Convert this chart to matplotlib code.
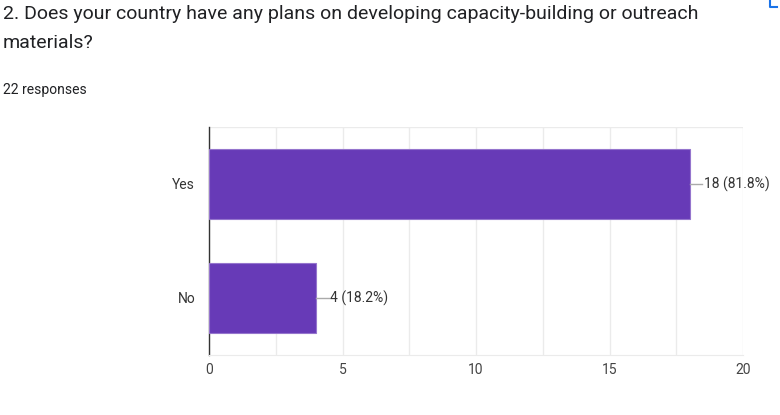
import numpy as np
import matplotlib.pyplot as plt
from matplotlib.lines import Line2D

plt.rcParams['font.family'] = ['Roboto', 'DejaVu Sans']

categories = ['Yes', 'No']
counts = [18, 4]
total = 22
labels = ['18 (81.8%)', '4 (18.2%)']
xticks = [0, 5, 10, 15, 20]

bar_color = '#673ab7'
text_color = '#444444'

fig = plt.figure(figsize=(7.8, 4.15), dpi=100)
ax = fig.add_axes([0.268, 0.1446, 0.6846, 0.5494])

y = np.arange(len(categories))
ax.barh(y, counts, height=0.61, color=bar_color, edgecolor='#9575cd', linewidth=0.8, zorder=3)

# leader lines and value labels
for yi, c, lab in zip(y, counts, labels):
    ax.plot([c, c + 0.48], [yi, yi], color='#aaaaaa', lw=1, zorder=3, clip_on=False)
    ax.text(c + 0.52, yi, lab, va='center', ha='left', fontsize=10, color='#333333')

ax.set_xlim(0, 20)
ax.set_ylim(1.5, -0.5)
ax.set_yticks(y)
ax.set_yticklabels(categories, fontsize=10, color='#333333')
ax.set_xticks(xticks)
ax.set_xticklabels([str(t) for t in xticks], fontsize=10, color=text_color)
ax.set_xticks(np.arange(0, 20.1, 2.5), minor=True)
ax.grid(axis='x', which='both', color='#ebebeb', lw=1, zorder=0)
ax.tick_params(axis='both', which='both', length=0, pad=6)
ax.tick_params(axis='y', pad=10)

for s in ['top', 'right']:
    ax.spines[s].set_visible(False)
ax.spines['bottom'].set_color('#ebebeb')
ax.spines['left'].set_color('#333333')
ax.spines['left'].set_linewidth(1)
ax.axhline(-0.5, color='#ebebeb', lw=1, zorder=0)

fig.text(0.004, 0.988, '2. Does your country have any plans on developing capacity-building or outreach\nmaterials?',
         fontsize=14, color='#202124', va='top', ha='left', linespacing=1.8)
fig.text(0.004, 0.783, '22 responses', fontsize=10, color='#202124', va='center', ha='left')

# small icon at top-right corner
fig.add_artist(Line2D([0.987, 0.987, 0.996], [1.0, 0.982, 0.982], color='#1a73e8', lw=1.5))

fig.savefig('out.png', dpi=100)
